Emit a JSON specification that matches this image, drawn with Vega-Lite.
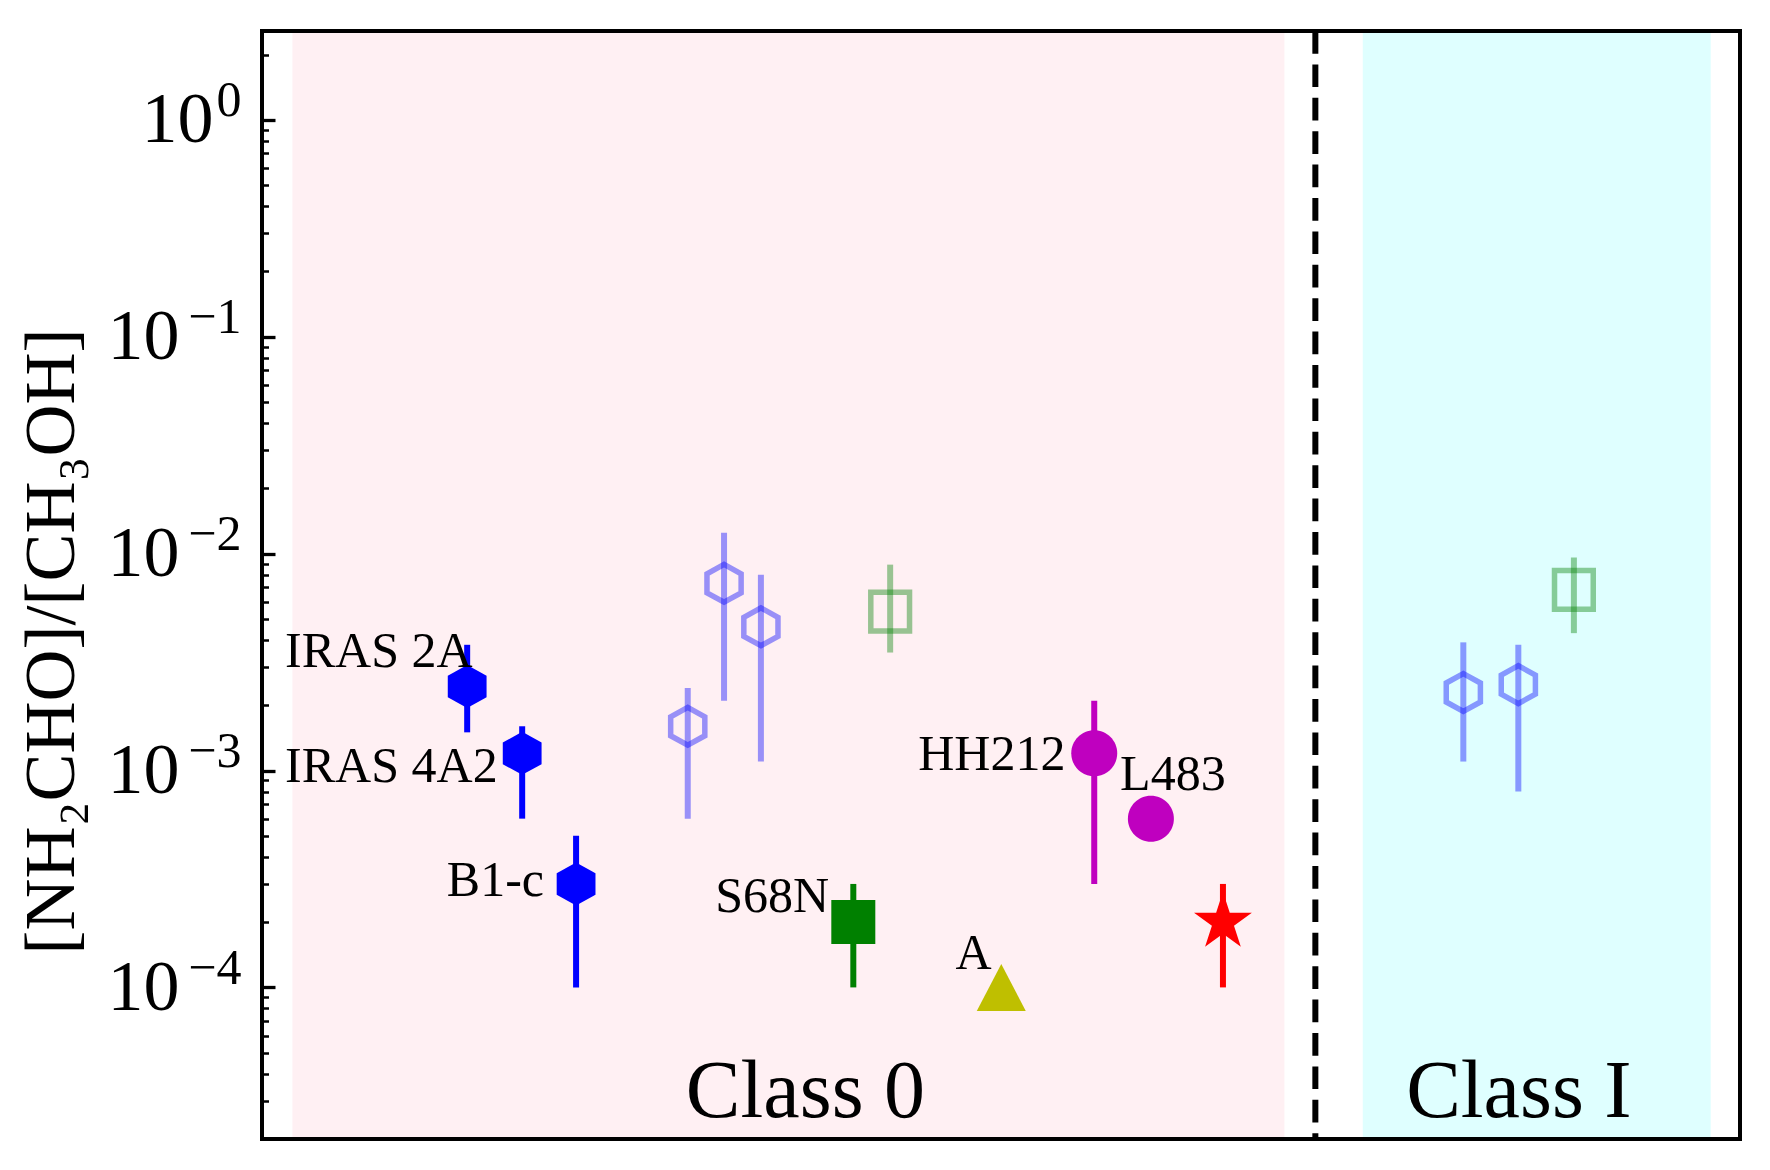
{
  "$schema": "https://vega.github.io/schema/vega-lite/v6.json",
  "width": 1478,
  "height": 1108,
  "autosize": "none",
  "padding": {"left": 262, "top": 31, "right": 30, "bottom": 31},
  "background": "white",
  "config": {"view": {"stroke": null}, "font": "Liberation Serif"},
  "datasets": {
    "points": [
      {"name": "IRAS 2A", "kind": "hex", "status": "filled", "x": 3.73, "y": 0.00244, "lo": 0.0015, "hi": 0.0038},
      {"name": "IRAS 4A2", "kind": "hex", "status": "filled", "x": 4.73, "y": 0.0012, "lo": 0.0006, "hi": 0.0016},
      {"name": "B1-c", "kind": "hex", "status": "filled", "x": 5.71, "y": 0.0003, "lo": 0.0001, "hi": 0.0005},
      {"name": "S68N", "kind": "square", "status": "filled", "x": 10.75, "y": 0.0002, "lo": 0.0001, "hi": 0.0003},
      {"name": "A", "kind": "triangle", "status": "filled", "x": 13.44, "y": 0.0001, "lo": null, "hi": null},
      {"name": "HH212", "kind": "circle", "status": "filled", "x": 15.13, "y": 0.0012, "lo": 0.0003, "hi": 0.0021},
      {"name": "L483", "kind": "circle", "status": "filled", "x": 16.16, "y": 0.0006, "lo": null, "hi": null},
      {"name": "star", "kind": "star", "status": "filled", "x": 17.47, "y": 0.0002, "lo": 0.0001, "hi": 0.0003},
      {"name": "open hex 1", "kind": "hex", "status": "open", "x": 7.74, "y": 0.0016, "lo": 0.0006, "hi": 0.0024},
      {"name": "open hex 2", "kind": "hex", "status": "open", "x": 8.40, "y": 0.0073, "lo": 0.0021, "hi": 0.0125},
      {"name": "open hex 3", "kind": "hex", "status": "open", "x": 9.07, "y": 0.0046, "lo": 0.0011, "hi": 0.008},
      {"name": "open square 1", "kind": "square", "status": "open", "x": 11.42, "y": 0.0054, "lo": 0.0035, "hi": 0.0089},
      {"name": "open hex 4", "kind": "hex", "status": "open", "x": 21.84, "y": 0.00229, "lo": 0.0011, "hi": 0.0039},
      {"name": "open hex 5", "kind": "hex", "status": "open", "x": 22.84, "y": 0.00249, "lo": 0.0008, "hi": 0.0038},
      {"name": "open square 2", "kind": "square", "status": "open", "x": 23.85, "y": 0.0068, "lo": 0.0043, "hi": 0.0096}
    ],
    "labels": [
      {"text": "IRAS 2A", "x": 0.42, "y": 0.00301},
      {"text": "IRAS 4A2", "x": 0.42, "y": 0.00089},
      {"text": "B1-c", "x": 3.36, "y": 0.000263},
      {"text": "S68N", "x": 8.24, "y": 0.000222},
      {"text": "A", "x": 12.61, "y": 0.000121},
      {"text": "HH212", "x": 11.93, "y": 0.00101},
      {"text": "L483", "x": 15.6, "y": 0.000817}
    ],
    "bands": [
      {"region": "Class 0", "x0": 0.58, "x1": 18.56},
      {"region": "Class I", "x0": 20.04, "x1": 26.31}
    ],
    "classes": [
      {"label": "Class 0", "x": 9.88, "y": 0.0000252},
      {"label": "Class I", "x": 22.85, "y": 0.0000252}
    ],
    "divider": [{"x": 19.15}]
  },
  "layer": [
    {
      "data": {"name": "bands"},
      "mark": {"type": "rect", "strokeWidth": 3},
      "encoding": {
        "x": {"field": "x0", "type": "quantitative", "scale": {"domain": [0, 26.87], "nice": false, "zero": false}, "axis": null},
        "x2": {"field": "x1"},
        "fill": {"field": "region", "type": "nominal", "scale": {"domain": ["Class 0", "Class I"], "range": ["#ffc0cb", "#00ffff"]}, "legend": null},
        "stroke": {"field": "region", "type": "nominal", "scale": {"domain": ["Class 0", "Class I"], "range": ["#ffc0cb", "#00ffff"]}, "legend": null},
        "opacity": {"field": "region", "type": "nominal", "scale": {"domain": ["Class 0", "Class I"], "range": [0.22, 0.12]}, "legend": null}
      }
    },
    {
      "data": {"name": "divider"},
      "mark": {"type": "rule", "color": "black", "strokeWidth": 6, "strokeDash": [22.7, 10.7]},
      "encoding": {
        "x": {"field": "x", "type": "quantitative", "scale": {"domain": [0, 26.87], "nice": false, "zero": false}, "axis": null}
      }
    },
    {
      "data": {"name": "points"},
      "transform": [{"filter": "datum.status == 'open'"}],
      "mark": {"type": "rule", "strokeWidth": 6, "opacity": 0.4},
      "encoding": {
        "x": {"field": "x", "type": "quantitative", "scale": {"domain": [0, 26.87], "nice": false, "zero": false}, "axis": null},
        "y": {"field": "lo", "type": "quantitative", "scale": {"type": "log", "domain": [0.00002, 2.57], "nice": false},
          "axis": {"orient": "left", "values": [0.00003, 0.00004, 0.00005, 0.00006, 0.00007, 0.00008, 0.00009, 0.0002, 0.0003, 0.0004, 0.0005, 0.0006, 0.0007, 0.0008, 0.0009, 0.002, 0.003, 0.004, 0.005, 0.006, 0.007, 0.008, 0.009, 0.02, 0.03, 0.04, 0.05, 0.06, 0.07, 0.08, 0.09, 0.2, 0.3, 0.4, 0.5, 0.6, 0.7, 0.8, 0.9, 2],
            "labels": false, "tickSize": -6.5, "tickWidth": 2.5, "tickColor": "black", "domain": false, "grid": false, "title": null}},
        "y2": {"field": "hi"},
        "color": {"field": "kind", "type": "nominal", "scale": {"domain": ["hex", "square", "triangle", "circle", "star"], "range": ["#0000ff", "#008000", "#bfbf00", "#bf00bf", "#ff0000"]}, "legend": null}
      }
    },
    {
      "data": {"name": "points"},
      "transform": [{"filter": "datum.status == 'filled'"}],
      "mark": {"type": "rule", "strokeWidth": 6},
      "encoding": {
        "x": {"field": "x", "type": "quantitative", "scale": {"domain": [0, 26.87], "nice": false, "zero": false}, "axis": null},
        "y": {"field": "lo", "type": "quantitative", "scale": {"type": "log", "domain": [0.00002, 2.57], "nice": false},
          "axis": {"orient": "left", "values": [1, 0.1, 0.01, 0.001, 0.0001],
            "labelExpr": "'10'",
            "tickSize": -13, "tickWidth": 3.3, "tickColor": "black",
            "labelPadding": {"condition": {"test": "datum.value == 1", "value": 62}, "value": 96},
            "labelFont": "Liberation Serif", "labelFontSize": 72, "labelColor": "black", "labelBaseline": "middle", "labelAlign": "right",
            "labelFlush": false, "labelOverlap": false, "domain": false, "grid": false,
            "title": "[NH₂CHO]/[CH₃OH]", "titleFont": "Liberation Serif", "titleFontSize": 72, "titleFontWeight": "normal", "titleColor": "black",
            "titleAngle": -90, "titleX": -189, "titleY": 610, "titleAlign": "center", "titleBaseline": "alphabetic"}},
        "y2": {"field": "hi"},
        "color": {"field": "kind", "type": "nominal", "scale": {"domain": ["hex", "square", "triangle", "circle", "star"], "range": ["#0000ff", "#008000", "#bfbf00", "#bf00bf", "#ff0000"]}, "legend": null}
      }
    },
    {
      "data": {"name": "points"},
      "transform": [{"filter": "datum.status == 'open'"}],
      "mark": {"type": "point", "filled": false, "strokeWidth": 5.5, "opacity": 0.4, "size": 1240},
      "encoding": {
        "x": {"field": "x", "type": "quantitative", "scale": {"domain": [0, 26.87], "nice": false, "zero": false}, "axis": null},
        "y": {"field": "y", "type": "quantitative", "scale": {"type": "log", "domain": [0.00002, 2.57], "nice": false}, "axis": null},
        "color": {"field": "kind", "type": "nominal", "scale": {"domain": ["hex", "square", "triangle", "circle", "star"], "range": ["#0000ff", "#008000", "#bfbf00", "#bf00bf", "#ff0000"]}, "legend": null},
        "shape": {"field": "kind", "type": "nominal", "scale": {"domain": ["hex", "square", "triangle", "circle", "star"], "range": [
          "M0,-1.075L0.97,-0.54L0.97,0.54L0,1.075L-0.97,0.54L-0.97,-0.54Z",
          "M-1.1,-1.1L1.1,-1.1L1.1,1.1L-1.1,1.1Z",
          "M0,-1.175L1.225,1.175L-1.225,1.175Z",
          "M1.15,0A1.15,1.15,0,1,1,-1.15,0A1.15,1.15,0,1,1,1.15,0Z",
          "M0,-1.52L0.341,-0.47L1.446,-0.47L0.552,0.179L0.894,1.23L0,0.581L-0.894,1.23L-0.552,0.179L-1.446,-0.47L-0.341,-0.47Z"]}, "legend": null}
      }
    },
    {
      "data": {"name": "points"},
      "transform": [{"filter": "datum.status == 'filled'"}],
      "mark": {"type": "point", "filled": true, "opacity": 1, "size": 1600},
      "encoding": {
        "x": {"field": "x", "type": "quantitative", "scale": {"domain": [0, 26.87], "nice": false, "zero": false}, "axis": null},
        "y": {"field": "y", "type": "quantitative", "scale": {"type": "log", "domain": [0.00002, 2.57], "nice": false}, "axis": null},
        "color": {"field": "kind", "type": "nominal", "scale": {"domain": ["hex", "square", "triangle", "circle", "star"], "range": ["#0000ff", "#008000", "#bfbf00", "#bf00bf", "#ff0000"]}, "legend": null},
        "shape": {"field": "kind", "type": "nominal", "scale": {"domain": ["hex", "square", "triangle", "circle", "star"], "range": [
          "M0,-1.075L0.97,-0.54L0.97,0.54L0,1.075L-0.97,0.54L-0.97,-0.54Z",
          "M-1.1,-1.1L1.1,-1.1L1.1,1.1L-1.1,1.1Z",
          "M0,-1.175L1.225,1.175L-1.225,1.175Z",
          "M1.15,0A1.15,1.15,0,1,1,-1.15,0A1.15,1.15,0,1,1,1.15,0Z",
          "M0,-1.52L0.341,-0.47L1.446,-0.47L0.552,0.179L0.894,1.23L0,0.581L-0.894,1.23L-0.552,0.179L-1.446,-0.47L-0.341,-0.47Z"]}, "legend": null}
      }
    },
    {
      "data": {"name": "labels"},
      "mark": {"type": "text", "font": "Liberation Serif", "fontSize": 50, "align": "left", "baseline": "alphabetic", "color": "black"},
      "encoding": {
        "x": {"field": "x", "type": "quantitative", "scale": {"domain": [0, 26.87], "nice": false, "zero": false}, "axis": null},
        "y": {"field": "y", "type": "quantitative", "scale": {"type": "log", "domain": [0.00002, 2.57], "nice": false},
          "axis": {"orient": "left", "values": [1, 0.1, 0.01, 0.001, 0.0001],
            "labelExpr": "['0','−1','−2','−3','−4'][round(-log(datum.value)/LN10)]",
            "ticks": false, "tickSize": 0, "labelPadding": 21, "labelOffset": -19,
            "labelFont": "Liberation Serif", "labelFontSize": 50, "labelColor": "black", "labelBaseline": "middle", "labelAlign": "right",
            "labelFlush": false, "labelOverlap": false, "domain": false, "grid": false, "title": null}},
        "text": {"field": "text"}
      }
    },
    {
      "data": {"name": "classes"},
      "mark": {"type": "text", "font": "Liberation Serif", "fontSize": 82, "align": "center", "baseline": "alphabetic", "color": "black"},
      "encoding": {
        "x": {"field": "x", "type": "quantitative", "scale": {"domain": [0, 26.87], "nice": false, "zero": false}, "axis": null},
        "y": {"field": "y", "type": "quantitative", "scale": {"type": "log", "domain": [0.00002, 2.57], "nice": false}, "axis": null},
        "text": {"field": "label"}
      }
    },
    {
      "data": {"name": "divider"},
      "mark": {"type": "rect", "fill": "transparent", "stroke": "black", "strokeWidth": 4},
      "encoding": {}
    }
  ],
  "resolve": {"axis": {"y": "independent"}}
}
